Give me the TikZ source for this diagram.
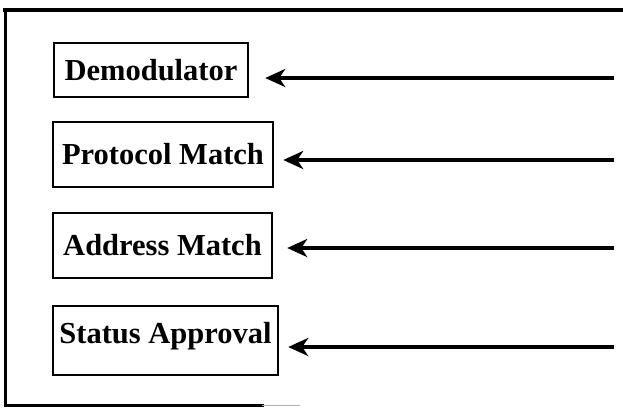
\documentclass[tikz,border=0pt]{standalone}
\usepackage{fontspec}
\setmainfont{Liberation Serif}
\usetikzlibrary{arrows.meta}
\tikzset{
    stagebox/.style={draw,line width=2.4pt,inner sep=0pt,
        font=\bfseries\fontsize{30.5}{36}\selectfont},
    sigline/.style={line width=3.4pt,
        -{Stealth[length=20pt,width=18pt,inset=6pt]}},
    frameline/.style={line width=3pt,line cap=rect},
}
\newcommand\StageBox[6]{%
    \node[stagebox,minimum width=#4pt,minimum height=#5pt] (#1) at (#2,#3) {#6};
}

\begin{document}
\begin{tikzpicture}[x=1pt,y=-1pt]
    \useasboundingbox (0,0) rectangle (623,408);
    % frame, open on the right
    \draw[frameline,line width=4pt] (5,10) -- (623,10);
    \draw[frameline] (5,10) -- (5,405) -- (262,405);
    \draw[gray!60,line width=1pt] (262,405) -- (300,405);
    % stages
    \StageBox{demod}{151}{70}{194}{54}{Demodulator}
    \StageBox{proto}{163}{154.5}{220}{65}{Protocol Match}
    \StageBox{addr}{162.5}{245.5}{219}{65}{Address Match}
    \node[stagebox,minimum width=225pt,text height=37pt,text depth=32pt]
        (status) at (165.5,340.5) {Status Approval};
    % incoming signals
    \coordinate (in1) at (614,78);
    \coordinate (in2) at (614,160);
    \coordinate (in3) at (614,248);
    \coordinate (in4) at (614,347);
    \draw[sigline,shorten >=16pt] (in1) -- (demod.east |- in1);
    \draw[sigline,shorten >=9pt] (in2) -- (proto.east |- in2);
    \draw[sigline,shorten >=14pt] (in3) -- (addr.east |- in3);
    \draw[sigline,shorten >=9pt] (in4) -- (status.east |- in4);
\end{tikzpicture}
\end{document}
